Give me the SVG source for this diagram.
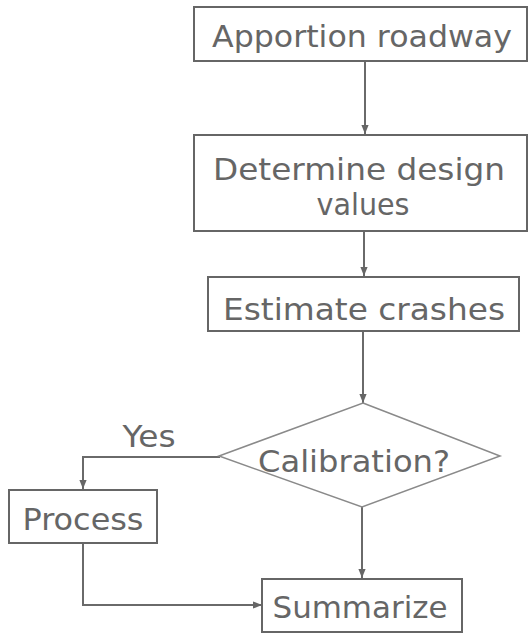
<svg xmlns="http://www.w3.org/2000/svg" width="529" height="633" viewBox="0 0 529 633">
<style>
.box{fill:#fff;stroke:#666;stroke-width:2}
.dia{fill:#fff;stroke:#8a8a8a;stroke-width:1.5}
.t{font-family:"DejaVu Sans","Liberation Sans",sans-serif;font-size:31px;fill:#666;text-anchor:middle}
.c{fill:none;stroke:#6a6a6a;stroke-width:2}
</style>
<defs>
<marker id="ah" viewBox="0 0 10 10" refX="10" refY="5" markerWidth="9" markerHeight="9" orient="auto" markerUnits="userSpaceOnUse">
<path d="M0,1 L10,5 L0,9 z" fill="#666"/>
</marker>
</defs>
<rect width="529" height="633" fill="#fff"/>
<g id="connectors">
<line class="c" x1="365" y1="61" x2="365" y2="134" marker-end="url(#ah)"/>
<line class="c" x1="364" y1="231" x2="364" y2="276" marker-end="url(#ah)"/>
<line class="c" x1="363" y1="331" x2="363" y2="403" marker-end="url(#ah)"/>
<polyline class="c" points="220,457 83,457 83,489" marker-end="url(#ah)"/>
<line class="c" x1="362" y1="507" x2="362" y2="578" marker-end="url(#ah)"/>
<polyline class="c" points="83,543 83,605 262,605" marker-end="url(#ah)"/>
</g>
<g id="apportion">
<rect class="box" x="194" y="7" width="333" height="54"/>
<text class="t" x="362" y="47" textLength="300" lengthAdjust="spacingAndGlyphs">Apportion roadway</text>
</g>
<g id="determine">
<rect class="box" x="194" y="135" width="333" height="96"/>
<text class="t" x="359" y="180" textLength="292" lengthAdjust="spacingAndGlyphs">Determine design</text>
<text class="t" x="363" y="215" textLength="93" lengthAdjust="spacingAndGlyphs">values</text>
</g>
<g id="estimate">
<rect class="box" x="208" y="277" width="311" height="54"/>
<text class="t" x="364" y="320" textLength="282" lengthAdjust="spacingAndGlyphs">Estimate crashes</text>
</g>
<g id="calibration">
<polygon class="dia" points="363,403 500,456 362,507 219,456"/>
<text class="t" x="354" y="472" textLength="192" lengthAdjust="spacingAndGlyphs">Calibration?</text>
</g>
<g id="yes-label">
<text class="t" x="149" y="447" textLength="53" lengthAdjust="spacingAndGlyphs">Yes</text>
</g>
<g id="process">
<rect class="box" x="9" y="490" width="148" height="53"/>
<text class="t" x="83" y="530" textLength="121" lengthAdjust="spacingAndGlyphs">Process</text>
</g>
<g id="summarize">
<rect class="box" x="262" y="579" width="200" height="53"/>
<text class="t" x="360" y="618" textLength="175" lengthAdjust="spacingAndGlyphs">Summarize</text>
</g>
</svg>
